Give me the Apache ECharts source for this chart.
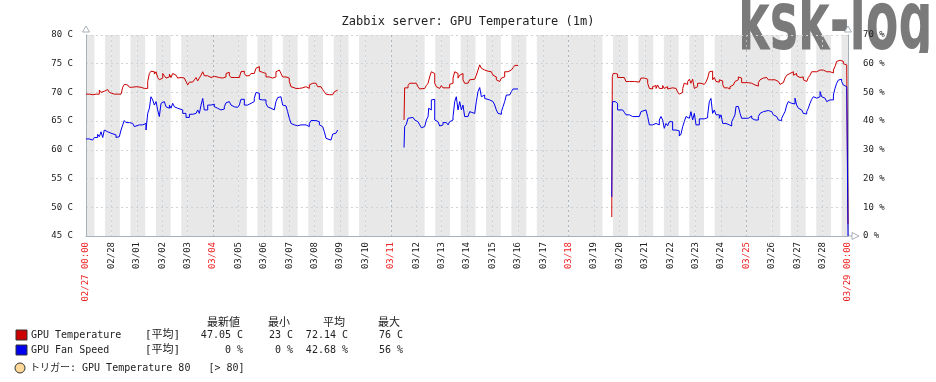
<!DOCTYPE html>
<html>
<head>
<meta charset="utf-8">
<script src="https://cdn.jsdelivr.net/npm/echarts@6/dist/echarts.min.js"></script>
<style>html,body{margin:0;padding:0;background:#fff}#c{width:936px;height:382px}</style>
</head>
<body>
<div id="c"></div>
<script>
// ---- data (hours since 2018-02-27 00:00) ----
const startDateUTC = Date.UTC(2018, 1, 27);
const rangeHours = 720;
const titleText = 'Zabbix server: GPU Temperature (1m)';

const tempHours = [0,3.2,6.3,7.9,9.5,11.0,12.6,14.2,15.8,17.3,18.9,20.5,22.1,23.6,26.8,29.9,31.5,33.1,34.7,36.2,37.8,39.4,41.0,44.1,47.3,52.0,53.6,55.1,56.7,58.3,59.9,61.4,63.0,64.6,66.2,67.7,69.3,70.9,72.5,74.0,75.6,77.2,78.8,80.3,81.9,83.5,85.1,86.6,88.2,89.8,91.4,92.9,94.5,96.1,97.7,100.8,102.4,104.0,105.5,107.1,108.7,110.3,111.8,115.0,118.1,121.3,
122.8,126.0,129.1,130.7,132.3,133.8,135.4,137.0,140.1,144.9,146.4,148.0,149.6,151.2,154.3,155.9,157.5,159.0,160.6,162.2,163.8,165.3,166.9,168.5,170.1,173.2,176.4,177.9,179.5,181.1,182.7,184.2,185.8,189.0,190.5,192.1,193.7,195.3,198.4,201.6,204.7,207.9,211.0,212.6,214.2,215.7,217.3,218.9,222.0,223.6,225.2,226.8,228.3,229.9,231.5,233.1,234.6,236.2,237.8,
237.9,
300.5,301.1,302.7,304.3,305.8,309.0,312.1,313.7,315.3,316.9,320.0,321.6,323.2,324.7,326.3,327.9,329.5,331.0,332.6,334.2,335.8,337.3,340.5,342.1,343.6,345.2,346.8,348.4,349.9,351.5,353.1,354.7,356.2,357.8,361.0,362.5,364.1,367.3,368.8,370.4,372.0,373.6,375.1,376.7,379.9,383.0,384.6,386.2,387.7,389.3,390.9,392.5,394.0,395.6,398.8,401.9,403.5,405.1,408.2,
408.3,
496.8,497.3,498.2,500.1,502.3,505.5,508.6,510.2,513.4,518.1,522.8,524.4,527.5,529.1,530.7,532.3,533.8,535.4,537.0,538.6,540.1,541.7,544.9,546.4,548.0,549.6,551.2,554.3,557.5,559.0,560.6,562.2,563.8,565.3,566.9,568.5,570.1,571.6,573.2,574.8,576.4,577.9,581.1,584.2,585.8,587.4,589.0,590.5,592.1,593.7,595.3,596.8,598.4,600.0,601.6,603.1,606.3,
608.5,610.1,611.7,613.2,614.8,616.4,618.0,619.5,622.7,625.8,629.0,630.6,632.1,633.7,635.3,636.9,638.4,640.0,643.2,644.7,647.9,651.0,654.2,655.8,657.3,658.9,660.5,662.1,663.6,665.2,666.8,668.4,669.9,671.5,673.1,674.7,676.2,677.8,679.4,681.0,682.5,684.1,685.7,687.3,690.4,692.0,693.6,695.1,696.7,699.9,703.0,704.6,706.2,707.7,709.3,710.9,712.5,714.0,715.6,717.2,718.8,720];
const tempValues = [69.7,69.6,69.4,69.7,70.0,69.7,70.4,70.0,70.2,70.1,70.5,70.7,70.0,69.7,69.7,69.6,69.7,70.0,70.9,71.4,71.3,71.2,70.9,71.0,70.9,70.9,70.7,70.4,70.7,71.9,73.3,73.7,73.6,73.2,73.6,72.6,72.2,72.5,73.3,72.9,72.5,72.7,73.2,72.6,73.3,73.0,73.3,72.5,72.6,72.3,72.5,72.2,71.9,71.3,71.8,72.0,72.2,72.6,72.0,72.5,73.0,73.6,72.9,72.6,72.8,72.6,
72.6,72.5,72.3,72.7,73.3,73.5,73.0,72.6,72.6,72.6,73.6,73.7,73.3,72.9,72.9,73.3,73.3,73.5,74.2,74.5,73.7,73.5,73.6,73.3,72.7,72.5,72.5,72.7,73.6,73.9,73.7,73.3,72.7,72.6,72.5,71.9,71.0,70.7,70.7,70.8,71.0,70.7,71.3,71.6,71.3,71.6,71.4,71.0,70.7,70.5,70.1,69.7,69.6,69.8,69.6,69.7,70.1,70.4,70.5,
null,
65.2,70.8,70.8,71.2,71.6,71.6,71.4,71.0,70.6,70.7,70.7,71.2,71.6,72.7,73.6,73.3,71.6,71.0,70.7,70.8,71.2,70.8,71.0,70.8,71.4,71.6,72.5,73.6,73.3,72.5,73.0,73.3,72.2,71.6,71.6,72.2,72.3,72.2,73.0,73.9,74.8,74.2,73.9,73.7,73.6,73.5,73.0,72.7,72.2,71.9,72.2,72.5,72.7,73.6,73.9,73.9,74.3,74.7,74.7,
null,
48.3,72.8,73.3,73.2,72.6,72.6,72.3,71.9,71.9,71.8,72.0,72.5,72.6,72.3,71.6,70.7,70.6,71.0,71.2,70.7,71.3,70.7,71.2,70.7,71.0,70.6,70.8,70.7,70.4,70.1,69.7,70.0,70.7,71.6,71.4,71.9,72.3,71.6,72.3,70.7,71.0,71.6,71.4,71.6,71.8,72.5,73.6,73.7,72.2,72.6,71.9,71.8,72.2,72.0,71.4,70.8,70.6,
71.0,71.3,71.6,71.9,72.2,72.7,72.5,71.7,71.7,71.6,71.7,71.3,71.0,71.1,71.7,72.2,72.5,72.6,72.5,72.2,72.2,71.9,71.6,71.4,71.7,71.9,72.5,73.0,73.3,73.2,73.6,73.0,73.3,72.9,72.6,72.5,72.7,72.2,71.9,72.2,72.6,73.0,73.6,73.6,73.6,73.9,74.2,73.9,73.6,73.6,73.4,73.4,73.9,74.5,75.4,75.6,75.5,75.4,75.0,74.8,74.8,47.05];

const fanHours = [0,3.2,6.3,7.9,9.5,11.0,12.6,14.2,15.8,17.3,18.9,20.5,22.1,23.6,25.2,28.4,29.9,31.5,33.1,34.7,36.2,37.8,41.0,42.5,44.1,45.7,47.3,50.4,53.6,55.1,56.7,58.3,59.9,61.4,63.0,64.6,66.2,67.7,69.3,70.9,72.5,74.0,75.6,77.2,78.8,80.3,81.9,83.5,85.1,86.6,88.2,91.4,94.5,97.7,100.8,104.0,105.5,107.1,108.7,110.3,111.8,115.0,118.1,121.3,
122.8,124.4,126.0,127.5,129.1,130.7,132.3,133.8,135.4,137.0,138.6,140.1,143.3,144.9,146.4,148.0,149.6,151.2,152.7,154.3,155.9,157.5,159.0,160.6,162.2,163.8,165.3,166.9,168.5,170.1,171.6,173.2,174.8,176.4,177.9,179.5,181.1,182.7,184.2,185.8,187.4,189.0,190.5,192.1,193.7,195.3,196.8,198.4,200.0,203.1,204.7,207.9,209.4,211.0,212.6,217.3,218.9,220.5,222.0,223.6,225.2,226.8,228.3,231.5,233.1,234.6,236.2,237.8,
237.9,
300.5,301.1,302.7,304.3,305.8,309.0,310.6,312.1,313.7,315.3,316.9,318.4,320.0,321.6,323.2,323.8,324.7,326.3,327.9,329.5,331.0,332.6,334.2,335.8,337.3,340.5,342.1,343.6,345.2,346.8,348.4,349.9,351.5,353.1,354.7,356.2,357.8,361.0,362.5,364.1,367.3,368.8,370.4,372.0,373.6,375.1,376.7,378.3,381.4,384.6,386.2,387.7,389.3,390.9,392.5,394.0,395.6,397.2,400.3,401.9,403.5,408.2,
408.3,
496.8,497.3,497.6,500.1,502.3,507.1,508.6,510.2,513.4,516.5,519.7,521.2,522.8,524.4,526.0,529.1,530.7,532.3,535.4,538.6,540.1,541.7,543.3,544.9,546.4,548.0,549.6,551.2,554.3,557.5,560.6,562.2,563.8,565.3,566.9,568.5,570.1,571.6,573.2,574.8,576.4,579.5,584.2,585.8,587.4,589.0,590.5,592.1,593.7,595.3,598.4,600.0,601.6,604.7,607.9,
608.5,610.1,611.7,613.2,614.2,616.4,618.0,619.5,622.7,625.8,627.4,629.0,630.6,632.1,633.7,635.3,636.9,638.4,640.0,641.6,644.7,647.9,649.5,651.0,652.6,654.2,655.8,657.3,658.9,660.5,662.1,663.6,665.2,666.8,668.4,669.9,671.5,673.1,674.7,676.2,677.8,679.4,681.0,682.5,684.1,685.7,687.3,688.8,690.4,692.0,693.6,695.1,696.7,698.3,699.9,701.4,703.0,704.6,706.2,707.7,709.3,710.9,712.5,714.0,715.6,717.2,718.8,720];
const fanValues = [33.8,33.4,33.1,34.3,34.3,35.4,34.6,36.3,34.3,36.9,36.3,36.9,35.8,35.2,35.2,34.3,34.6,35.2,36.9,38.7,40.2,39.5,39.2,39.2,38.7,38.1,38.7,38.7,38.7,39.2,36.9,42.7,44.5,48.5,47.4,45.6,46.8,43.9,41.6,46.2,46.8,46.2,45.0,44.5,45.6,44.5,46.2,45.0,44.5,45.0,43.9,42.7,41.3,42.4,42.7,42.1,43.9,42.7,45.6,47.9,43.9,45.6,45.9,45.0,
44.5,44.2,43.9,44.5,44.2,45.0,46.4,46.8,46.2,45.6,45.0,44.8,44.8,45.6,47.6,47.6,45.6,45.6,45.9,46.2,46.8,46.8,47.9,50.0,49.7,47.6,47.4,47.0,47.4,46.2,45.0,44.5,43.9,43.9,44.5,46.8,48.2,48.5,47.9,45.6,45.3,44.7,43.3,41.0,39.2,38.7,38.1,38.4,38.7,39.0,38.7,38.3,38.1,39.2,40.2,40.2,39.8,38.7,38.1,37.7,36.3,34.0,33.4,33.4,35.5,35.8,36.3,36.9,
null,
30.8,38.1,38.9,41.0,41.3,41.2,40.4,39.8,39.2,38.7,37.7,38.1,38.7,40.4,41.6,44.5,43.9,47.4,47.6,40.4,39.8,39.2,38.3,38.7,39.5,39.2,38.7,39.8,40.4,41.6,46.8,48.5,43.9,46.8,43.9,45.6,41.6,41.0,43.3,42.7,43.3,46.8,50.3,51.7,48.5,49.1,47.9,47.4,46.8,46.2,45.6,43.9,42.7,42.4,43.3,45.0,46.8,49.1,48.5,50.3,51.2,51.4,
null,
13.6,45.0,46.8,46.2,43.9,43.7,43.1,42.2,41.6,41.6,41.0,41.6,42.2,43.3,43.9,43.5,41.6,38.7,39.2,39.5,38.7,40.4,41.6,40.4,37.5,39.2,38.4,39.8,36.9,36.6,34.8,35.5,38.1,39.8,41.6,41.0,41.6,43.3,40.4,42.7,38.7,40.8,41.0,41.2,42.2,46.8,47.9,42.7,43.9,42.2,41.0,42.2,39.2,38.7,38.1,
38.3,39.8,41.0,42.2,45.1,45.6,42.7,41.0,41.0,41.6,41.8,41.0,40.4,39.8,40.4,41.6,42.7,43.3,43.9,43.7,43.3,42.7,42.2,41.6,41.0,40.4,40.2,41.0,42.2,43.3,45.6,46.8,46.2,46.8,46.0,48.0,45.6,44.5,43.9,43.3,42.7,42.5,43.3,44.5,46.2,47.6,48.5,48.0,48.3,48.5,50.3,48.5,48.0,47.4,46.8,47.4,48.0,47.4,49.1,51.4,53.2,54.3,54.6,53.8,52.6,52.0,51.8,0];

// work period (white), everything else shaded
const workStartHour = 8;
const workEndHour = 18;
const weekendDays = [0, 6]; // Sun, Sat

const seriesNames = ['GPU Temperature', 'GPU Fan Speed'];
const statHeaders = ['最新値', '最小', '平均', '最大'];
const tempStats = ['47.05 C', '23 C', '72.14 C', '76 C'];
const fanStats = ['0 %', '0 %', '42.68 %', '56 %'];
const triggerText = 'トリガー: GPU Temperature 80   [> 80]';

// ---- build ----
const MONO = '"DejaVu Sans Mono", "Noto Sans CJK JP", monospace';
const toPairs = (xs, ys) => xs.map((x, i) => [x, ys[i]]);

function dayInfo(h) {
  const d = new Date(startDateUTC + h * 3600000);
  const mm = String(d.getUTCMonth() + 1).padStart(2, '0');
  const dd = String(d.getUTCDate()).padStart(2, '0');
  return { label: mm + '/' + dd, dow: d.getUTCDay() };
}

const bands = [];
for (let h = 0; h < rangeHours; h += 24) {
  const { dow } = dayInfo(h);
  if (weekendDays.includes(dow)) {
    bands.push([{ xAxis: h }, { xAxis: h + 24 }]);
  } else {
    bands.push([{ xAxis: h }, { xAxis: h + workStartHour }]);
    bands.push([{ xAxis: h + workEndHour }, { xAxis: h + 24 }]);
  }
}

const vColors = [];
for (let h = 0; h <= rangeHours; h += 24) {
  vColors.push(dayInfo(h).dow === 0 ? '#a9b4bd' : '#ccd4da');
}

const chart = echarts.init(document.getElementById('c'), null, { renderer: 'canvas' });

const legendG = [];
const txt = (x, y, t, align, size) => ({
  type: 'text', x: x, y: y, silent: true,
  style: { text: t, fill: '#222', font: (size || 10) + 'px ' + MONO, textAlign: align || 'left', textVerticalAlign: 'middle' }
});
const headX = [240, 290, 345, 400];
statHeaders.forEach((t, i) => legendG.push(txt(headX[i], 323, t, 'right', 11)));
[[tempStats, '#cc0000', 335], [fanStats, '#0000ee', 350]].forEach(([st, col, y], r) => {
  legendG.push({ type: 'rect', shape: { x: 16, y: y - 5, width: 11, height: 10 }, style: { fill: col, stroke: '#333', lineWidth: 1 }, silent: true });
  legendG.push(txt(31, y, seriesNames[r]));
  legendG.push(txt(145, y, '[平均]', 'left', 11));
  st.forEach((t, i) => legendG.push(txt(headX[i] + 3, y, t, 'right')));
});
legendG.push({ type: 'circle', shape: { cx: 20, cy: 368, r: 5 }, style: { fill: '#ffd89a', stroke: '#333', lineWidth: 1 }, silent: true });
legendG.push(txt(30, 368, triggerText));

const arrowStyle = { fill: '#fff', stroke: '#a8b0b8', lineWidth: 1 };
const graphics = [
  { type: 'text', x: 738, y: -13, scaleX: 0.70, scaleY: 1.2, z: -1, silent: true,
    style: { text: 'ksk-log', font: 'bold 68px "DejaVu Sans"', fill: '#7a7a7a' } },
  // the pasted watermark is cut off at its lower edge
  { type: 'rect', shape: { x: 886, y: 53, width: 50, height: 30 }, style: { fill: '#ffffff' }, z: -1, zlevel: 0, silent: true },
  { type: 'polygon', shape: { points: [[82.5, 32], [89.5, 32], [86, 26]] }, style: arrowStyle, silent: true },
  { type: 'polygon', shape: { points: [[844.5, 32], [851.5, 32], [848, 26]] }, style: arrowStyle, silent: true },
  { type: 'line', shape: { x1: 848, y1: 236, x2: 852, y2: 236 }, style: { stroke: '#a8b0b8', lineWidth: 1 }, silent: true },
  { type: 'polygon', shape: { points: [[852, 232.5], [852, 239.5], [859, 236]] }, style: arrowStyle, silent: true }
].concat(legendG);

const option = {
  animation: false,
  backgroundColor: '#ffffff',
  title: { text: titleText, left: 'center', top: 11,
    textStyle: { fontFamily: MONO, fontSize: 12, fontWeight: 'normal', color: '#222' } },
  grid: { left: 86, right: 88, top: 35, bottom: 146, containLabel: false },
  xAxis: {
    type: 'value', min: 0, max: rangeHours, interval: 24,
    axisLine: { show: true, lineStyle: { color: '#a8b0b8', width: 1 } },
    axisTick: { show: false },
    splitLine: { show: true, showMinLine: true, showMaxLine: true, lineStyle: { color: vColors, type: [2, 3], width: 1 } },
    axisLabel: {
      rotate: 90, margin: 6, showMinLabel: true, showMaxLabel: true,
      formatter: function (v) {
        const info = dayInfo(v);
        if (v === 0 || v === rangeHours) return '{r|' + info.label + ' 00:00}';
        return (info.dow === 0 ? '{r|' : '{n|') + info.label + '}';
      },
      rich: {
        n: { fontFamily: MONO, fontSize: 9, color: '#222' },
        r: { fontFamily: MONO, fontSize: 9, color: '#ee2222' }
      }
    }
  },
  yAxis: [
    { type: 'value', min: 45, max: 80, interval: 5, position: 'left',
      axisLine: { show: true, lineStyle: { color: '#a8b0b8' } }, axisTick: { show: false },
      splitLine: { show: true, lineStyle: { color: '#ccd4da', type: [2, 3] } },
      axisLabel: { formatter: '{value} C', margin: 13, fontFamily: MONO, fontSize: 9, color: '#222' } },
    { type: 'value', min: 0, max: 70, interval: 10, position: 'right',
      axisLine: { show: true, lineStyle: { color: '#a8b0b8' } }, axisTick: { show: false },
      splitLine: { show: false },
      axisLabel: { formatter: '{value} %', margin: 15, fontFamily: MONO, fontSize: 9, color: '#222' } }
  ],
  series: [
    { type: 'line', name: 'bands', data: [], silent: true, z: -2,
      markArea: { silent: true, z: -2, itemStyle: { color: '#e8e8e8' }, data: bands } },
    { type: 'line', name: seriesNames[0], yAxisIndex: 0, data: toPairs(tempHours, tempValues), step: 'end',
      showSymbol: false, connectNulls: false, lineStyle: { color: '#cc0000', width: 1 }, itemStyle: { color: '#cc0000' }, z: 3 },
    { type: 'line', name: seriesNames[1], yAxisIndex: 1, data: toPairs(fanHours, fanValues), step: 'end',
      showSymbol: false, connectNulls: false, lineStyle: { color: '#0000ee', width: 1 }, itemStyle: { color: '#0000ee' }, z: 4 }
  ],
  graphic: graphics
};
chart.setOption(option);
</script>
</body>
</html>
